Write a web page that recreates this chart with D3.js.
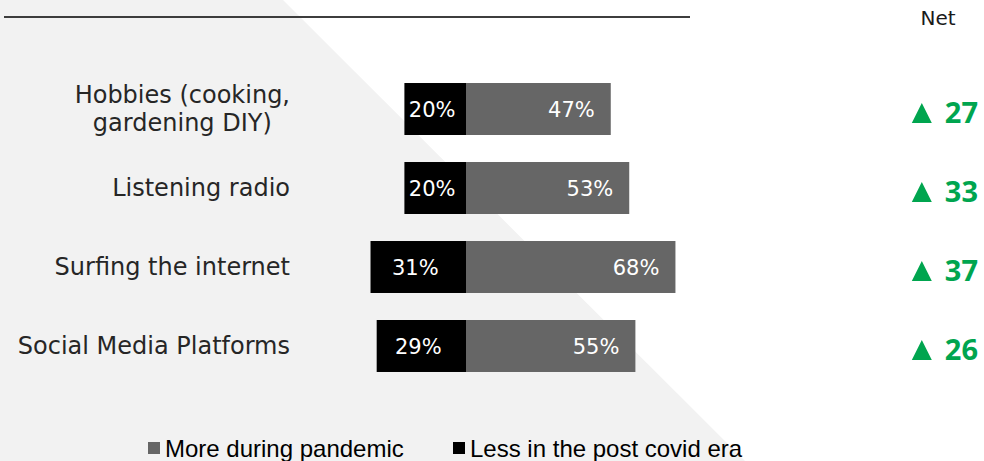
<!DOCTYPE html>
<html>
<head>
<meta charset="utf-8">
<script src="https://cdn.jsdelivr.net/npm/d3@7"></script>
<style>
  html, body { margin: 0; padding: 0; background: #ffffff; }
  svg { display: block; }
</style>
</head>
<body>
<div id="chart"></div>
<script>
// Activities people did more during the pandemic vs. less in the post covid era
const categories = ["Hobbies (cooking,|gardening DIY)", "Listening radio", "Surfing the internet", "Social Media Platforms"];
const moreDuring = [47, 53, 68, 55];
const lessPost = [20, 20, 31, 29];
const netValues = [27, 33, 37, 26];
const seriesNames = ["More during pandemic", "Less in the post covid era"];
const netHeader = "Net";

const W = 984, H = 461;
const labelFont = "'DejaVu Sans', 'Noto Sans', sans-serif";
const netFont = "'Open Sans', 'Noto Sans', sans-serif";
const colMore = "#666666", colLess = "#000000", colNet = "#00a54f";

const svg = d3.select("#chart").append("svg")
  .attr("width", W).attr("height", H);

// Diagonal light-grey backdrop panel
svg.append("rect").attr("width", W).attr("height", H).attr("fill", "#ffffff");
svg.append("path")
  .attr("d", d3.line()([[0, 0], [283, 0], [745, H], [0, H]]) + "Z")
  .attr("fill", "#f2f2f2");

// Top rule
svg.append("line")
  .attr("x1", 4).attr("x2", 690).attr("y1", 17).attr("y2", 17)
  .attr("stroke", "#3d3d3d").attr("stroke-width", 2.2);

const x = d3.scaleLinear().domain([0, 100]).range([466, 774]);
const y = d3.scaleBand().domain(categories).range([56, 399]).paddingInner(0.342).paddingOuter(0.342);
const bh = y.bandwidth();
const cy = c => y(c) + bh / 2;

const rows = categories.map((c, i) => ({ c, more: moreDuring[i], less: lessPost[i], net: netValues[i] }));

// Bars: "less" extends left of zero, "more" extends right
const g = svg.append("g");
g.selectAll("rect.less").data(rows).join("rect")
  .attr("class", "less")
  .attr("x", d => x(-d.less)).attr("y", d => y(d.c))
  .attr("width", d => x(0) - x(-d.less)).attr("height", bh)
  .attr("fill", colLess);
g.selectAll("rect.more").data(rows).join("rect")
  .attr("class", "more")
  .attr("x", x(0)).attr("y", d => y(d.c))
  .attr("width", d => x(d.more) - x(0)).attr("height", bh)
  .attr("fill", colMore);

// Value labels inside bars
g.selectAll("text.lessLbl").data(rows).join("text")
  .attr("class", "lessLbl")
  .attr("x", d => (x(-d.less) + x(0)) / 2 - 3)
  .attr("y", d => cy(d.c) + 8)
  .attr("text-anchor", "middle")
  .attr("font-family", labelFont).attr("font-size", 21)
  .attr("fill", "#ffffff")
  .text(d => d.less + "%");
g.selectAll("text.moreLbl").data(rows).join("text")
  .attr("class", "moreLbl")
  .attr("x", d => x(d.more) - 16)
  .attr("y", d => cy(d.c) + 8)
  .attr("text-anchor", "end")
  .attr("font-family", labelFont).attr("font-size", 21)
  .attr("fill", "#ffffff")
  .text(d => d.more + "%");

// Category labels (multi-line labels are centred within their block)
const catG = svg.append("g");
rows.forEach(d => {
  const lines = d.c.split("|");
  const t = catG.append("text")
    .attr("font-family", labelFont).attr("font-size", 24)
    .attr("fill", "#262626");
  const spans = lines.map((ln, i) => t.append("tspan")
    .attr("y", cy(d.c) + 8 + (i - (lines.length - 1) / 2) * 28)
    .text(ln));
  const widths = spans.map(s => s.node().getComputedTextLength());
  const maxW = d3.max(widths);
  const right = 290;
  spans.forEach(s => {
    s.attr("x", lines.length > 1 ? right - maxW / 2 : right)
     .attr("text-anchor", lines.length > 1 ? "middle" : "end");
  });
});

// Net column
svg.append("text")
  .attr("x", 938).attr("y", 25)
  .attr("text-anchor", "middle")
  .attr("font-family", labelFont).attr("font-size", 20)
  .attr("fill", "#1a1a1a")
  .text(netHeader);

const netG = svg.append("g");
rows.forEach(d => {
  const base = cy(d.c) + 14;
  const t = netG.append("text")
    .attr("x", 978).attr("y", base)
    .attr("text-anchor", "end")
    .attr("font-family", netFont).attr("font-size", 29).attr("font-weight", 700)
    .attr("fill", colNet)
    .text(d.net);
  const tw = t.node().getComputedTextLength();
  const tr = 978 - tw - 13;
  netG.append("path")
    .attr("d", d3.line()([[tr - 20, base], [tr, base], [tr - 10, base - 20]]) + "Z")
    .attr("fill", colNet);
});

// Legend
const legend = svg.append("g");
const legendItems = [
  { name: seriesNames[0], color: colMore, x: 148 },
  { name: seriesNames[1], color: colLess, x: 453 }
];
legendItems.forEach(it => {
  legend.append("rect")
    .attr("x", it.x).attr("y", 442).attr("width", 12).attr("height", 12)
    .attr("fill", it.color);
  legend.append("text")
    .attr("x", it.x + 17).attr("y", 457)
    .attr("font-family", "'Liberation Sans', Arial, sans-serif").attr("font-size", 24)
    .attr("fill", "#000000")
    .text(it.name);
});
</script>
</body>
</html>
